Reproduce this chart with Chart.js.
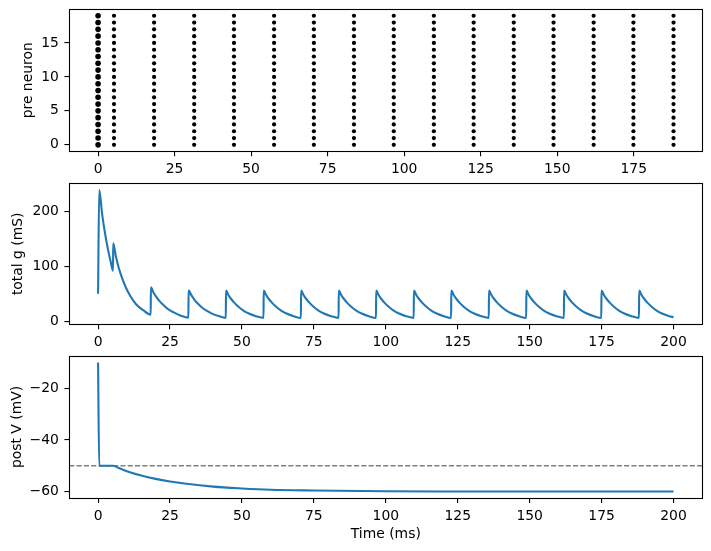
<!DOCTYPE html>
<html>
<head>
<meta charset="utf-8">
<script src="https://cdn.jsdelivr.net/npm/chart.js@4"></script>
<style>
body{margin:0;background:#fff;}
.wrap{position:relative;width:711px;height:551px;}
canvas{position:absolute;left:0;}
</style>
</head>
<body>
<div class="wrap">
<canvas id="c1" width="711" height="180" style="top:0px"></canvas>
<canvas id="c2" width="711" height="180" style="top:173px"></canvas>
<canvas id="c3" width="711" height="205" style="top:346px"></canvas>
</div>
<script>
// spike times of the presynaptic neurons (all 20 fire together)
const neurons = [0,1,2,3,4,5,6,7,8,9,10,11,12,13,14,15,16,17,18,19]
const spikeTimes = [0, 5.2, 18.3, 31.4, 44.4, 57.5, 70.5, 83.6, 96.6, 109.7, 122.7, 135.8, 148.8, 161.9, 174.9, 188.0]

// total conductance
const gTime = [
0, 0.4, 1.4, 2.4, 3.4, 4.4,
5.2, 5.25, 6.2, 7.2, 8.2, 9.7, 11.2, 13.2, 15.7,
18.3, 18.35, 19.3, 20.3, 21.3, 22.8, 24.3, 26.3, 28.8,
31.4, 31.45, 32.4, 33.4, 34.4, 35.9, 37.4, 39.4, 41.9,
44.4, 44.45, 45.4, 46.4, 47.4, 48.9, 50.4, 52.4, 54.9,
57.5, 57.55, 58.5, 59.5, 60.5, 62, 63.5, 65.5, 68,
70.5, 70.55, 71.5, 72.5, 73.5, 75, 76.5, 78.5, 81,
83.6, 83.65, 84.6, 85.6, 86.6, 88.1, 89.6, 91.6, 94.1,
96.6, 96.65, 97.6, 98.6, 99.6, 101.1, 102.6, 104.6, 107.1,
109.7, 109.75, 110.7, 111.7, 112.7, 114.2, 115.7, 117.7, 120.2,
122.7, 122.75, 123.7, 124.7, 125.7, 127.2, 128.7, 130.7, 133.2,
135.8, 135.85, 136.8, 137.8, 138.8, 140.3, 141.8, 143.8, 146.3,
148.8, 148.85, 149.8, 150.8, 151.8, 153.3, 154.8, 156.8, 159.3,
161.9, 161.95, 162.9, 163.9, 164.9, 166.4, 167.9, 169.9, 172.4,
174.9, 174.95, 175.9, 176.9, 177.9, 179.4, 180.9, 182.9, 185.4,
188, 188.05, 189, 190, 191, 192.5, 194, 196, 198.5, 200
]
const gValue = [
50, 240, 196, 161, 132, 108,
92, 142, 118, 97, 81, 61, 46, 31, 20,
12, 62, 52, 44, 37, 29, 22, 16, 10,
6.5, 56.5, 47.5, 40, 33.5, 26, 20, 14.3, 9.3,
6, 56, 47, 39.6, 33.4, 25.8, 19.9, 14.1, 9.2,
6, 56, 47, 39.6, 33.4, 25.8, 19.9, 14.1, 9.2,
6, 56, 47, 39.6, 33.4, 25.8, 19.9, 14.1, 9.2,
6, 56, 47, 39.6, 33.4, 25.8, 19.9, 14.1, 9.2,
6, 56, 47, 39.6, 33.4, 25.8, 19.9, 14.1, 9.2,
6, 56, 47, 39.6, 33.4, 25.8, 19.9, 14.1, 9.2,
6, 56, 47, 39.6, 33.4, 25.8, 19.9, 14.1, 9.2,
6, 56, 47, 39.6, 33.4, 25.8, 19.9, 14.1, 9.2,
6, 56, 47, 39.6, 33.4, 25.8, 19.9, 14.1, 9.2,
6, 56, 47, 39.6, 33.4, 25.8, 19.9, 14.1, 9.2,
6, 56, 47, 39.6, 33.4, 25.8, 19.9, 14.1, 9.2,
6, 56, 47, 39.6, 33.4, 25.8, 19.9, 14.1, 9.2, 7.2
]

// postsynaptic membrane potential
const vTime = [0, 0.4, 5.2, 7, 10, 15, 20, 25, 30, 40, 50, 60, 75, 100, 125, 150, 200]
const vValue = [-10, -50, -50, -50.8, -52.1, -53.8, -55.1, -56.1, -56.9, -58.1, -58.8, -59.3, -59.6, -59.9, -59.97, -60, -60]
const threshold = -50

const xTicksTop = [0, 25, 50, 75, 100, 125, 150, 175]
const xTicks = [0, 25, 50, 75, 100, 125, 150, 175, 200]
const yTicksTop = [0, 5, 10, 15]
const yTicksMid = [0, 100, 200]
const yTicksBot = [-60, -40, -20]

const FONT = {family: '"DejaVu Sans", sans-serif', size: 13.9}
const BLUE = '#1f77b4'

function pad5(arr){
  const lo = Math.min(...arr), hi = Math.max(...arr)
  const m = (hi - lo) * 0.05
  return [lo - m, hi + m]
}

function fmt(v){
  return v < 0 ? '\u2212' + Math.abs(v) : String(v)
}

const frame = {
  id: 'frame',
  afterDraw(chart){
    const a = chart.chartArea
    const c = chart.ctx
    c.save()
    c.strokeStyle = '#000'
    c.lineWidth = 1.1
    c.strokeRect(Math.round(a.left) + 0.5, Math.round(a.top) + 0.5,
      Math.round(a.right) - Math.round(a.left), Math.round(a.bottom) - Math.round(a.top))
    c.restore()
  }
}

function xScale(range, ticks, height, title){
  return {
    type: 'linear', min: range[0], max: range[1],
    afterBuildTicks: s => { s.ticks = ticks.map(v => ({value: v})) },
    afterFit: s => { s.height = height; s.paddingLeft = 0; s.paddingRight = 0 },
    grid: {drawOnChartArea: false, drawTicks: true, tickLength: 4.9, color: '#000', lineWidth: 1.1},
    border: {display: false},
    ticks: {font: FONT, color: '#000', padding: 4.9, maxRotation: 0, autoSkip: false, callback: v => fmt(v)},
    title: title ? {display: true, text: title, font: FONT, color: '#000', padding: {top: 0, bottom: 8.2}} : {display: false}
  }
}

function yScale(range, ticks, title, titlePad){
  return {
    type: 'linear', min: range[0], max: range[1],
    afterBuildTicks: s => { s.ticks = ticks.map(v => ({value: v})) },
    afterFit: s => { s.width = 69.3; s.paddingTop = 0; s.paddingBottom = 0 },
    grid: {drawOnChartArea: false, drawTicks: true, tickLength: 4.9, color: '#000', lineWidth: 1.1},
    border: {display: false},
    ticks: {font: FONT, color: '#000', padding: 5.5, autoSkip: false, callback: v => fmt(v)},
    title: {display: true, text: title, font: FONT, color: '#000', padding: {top: titlePad, bottom: 0}}
  }
}

function baseOptions(padTop, scales){
  return {
    responsive: false,
    animation: false,
    devicePixelRatio: 1,
    layout: {padding: {left: 0, right: 8.7, top: padTop, bottom: 0}},
    plugins: {legend: {display: false}, tooltip: {enabled: false}},
    scales: scales
  }
}

// top: raster of presynaptic spikes
const raster = []
for(const t of spikeTimes){
  for(const n of neurons){
    raster.push({x: t, y: n})
  }
}

new Chart(document.getElementById('c1'), {
  type: 'scatter',
  data: {datasets: [{
    data: raster,
    backgroundColor: '#000',
    borderWidth: 0,
    pointRadius: ctx => (ctx.raw && ctx.raw.x < 1 ? 2.8 : 2.1)
  }]},
  options: baseOptions(9.3, {
    x: xScale(pad5(spikeTimes), xTicksTop, 28.7),
    y: yScale(pad5(neurons), yTicksTop, 'pre neuron', 20.2)
  }),
  plugins: [frame]
})

// middle: total conductance
const xRange = pad5(gTime)
new Chart(document.getElementById('c2'), {
  type: 'line',
  data: {datasets: [{
    data: gTime.map((t, i) => ({x: t, y: gValue[i]})),
    borderColor: BLUE,
    borderWidth: 2.1,
    pointRadius: 0,
    fill: false,
    cubicInterpolationMode: 'monotone'
  }]},
  options: baseOptions(10.3, {
    x: xScale(xRange, xTicks, 28.7),
    y: yScale(pad5(gValue), yTicksMid, 'total g (mS)', 10.4)
  }),
  plugins: [frame]
})

// bottom: membrane potential with threshold
new Chart(document.getElementById('c3'), {
  type: 'line',
  data: {datasets: [
    {
      data: vTime.map((t, i) => ({x: t, y: vValue[i]})),
      borderColor: BLUE,
      borderWidth: 2.1,
      pointRadius: 0,
      fill: false,
      cubicInterpolationMode: 'monotone'
    },
    {
      data: [{x: xRange[0], y: threshold}, {x: xRange[1], y: threshold}],
      borderColor: '#808080',
      borderWidth: 1.4,
      borderDash: [5.1, 2.2],
      pointRadius: 0,
      fill: false
    }
  ]},
  options: baseOptions(10, {
    x: xScale(xRange, xTicks, 53, 'Time (ms)'),
    y: yScale(pad5(vValue), yTicksBot, 'post V (mV)', 9.2)
  }),
  plugins: [frame]
})
</script>
</body>
</html>
